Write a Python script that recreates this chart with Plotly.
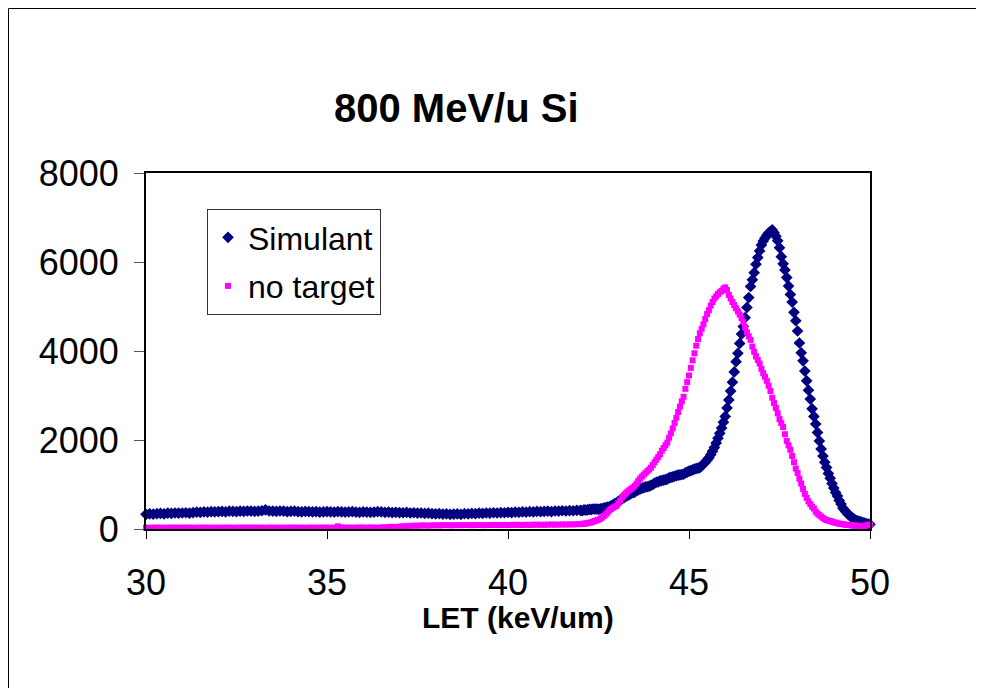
import numpy as np
import plotly.graph_objects as go

# ---- data ----
# low-LET region: 30.0 .. 41.9 step 0.1
flat_start, flat_step = 30.0, 0.1
simulant_flat = [
    330, 340, 335, 345, 350, 340, 355, 350, 360, 355,
    360, 365, 355, 370, 380, 375, 385, 380, 390, 385,
    390, 395, 385, 400, 395, 390, 400, 395, 405, 400,
    395, 400, 410, 430, 405, 400, 395, 405, 400, 390,
    395, 400, 390, 385, 395, 390, 385, 390, 380, 385,
    390, 385, 380, 390, 385, 380, 385, 390, 380, 375,
    385, 380, 375, 380, 390, 385, 375, 380, 370, 375,
    370, 365, 375, 360, 365, 355, 360, 350, 355, 345,
    340, 345, 335, 340, 330, 335, 340, 330, 345, 340,
    350, 345, 355, 350, 360, 355, 365, 360, 370, 365,
    375, 370, 380, 375, 385, 380, 390, 385, 395, 390,
    395, 400, 390, 405, 400, 410, 405, 415, 410, 420,
]
notarget_flat = [
    30, 28, 30, 32, 30, 28, 30, 32, 30, 30,
    30, 32, 30, 28, 30, 30, 32, 30, 28, 30,
    30, 30, 32, 30, 28, 30, 30, 32, 30, 30,
    32, 30, 30, 28, 30, 32, 30, 30, 28, 30,
    30, 32, 30, 30, 28, 30, 32, 30, 30, 32,
    30, 30, 32, 60, 35, 30, 32, 30, 30, 35,
    32, 30, 35, 32, 30, 35, 40, 45, 50, 45,
    55, 60, 65, 70, 75, 72, 78, 80, 75, 82,
    85, 80, 85, 88, 82, 85, 88, 85, 90, 88,
    85, 88, 90, 85, 88, 90, 92, 90, 88, 92,
    90, 92, 95, 92, 90, 95, 92, 95, 98, 95,
    95, 98, 100, 98, 100, 102, 100, 105, 102, 108,
]
# peak region: 42.00 .. 50.00 step 0.05
peak_start, peak_step = 42.0, 0.05
simulant_peak = [
    420, 410, 430, 425, 430, 440, 435, 450, 445, 450,
    440, 455, 460, 470, 480, 490, 500, 520, 545, 570,
    590, 620, 650, 680, 700, 730, 750, 770, 800, 815,
    830, 860, 880, 900, 920, 930, 945, 950, 965, 980,
    1000, 1030, 1050, 1060, 1080, 1090, 1100, 1110, 1120, 1150,
    1160, 1170, 1185, 1200, 1210, 1215, 1225, 1230, 1260, 1280,
    1300, 1310, 1330, 1345, 1360, 1370, 1380, 1420, 1460, 1500,
    1550, 1600, 1670, 1750, 1830, 1930, 2040, 2150, 2270, 2400,
    2530, 2720, 2900, 3100, 3300, 3530, 3760, 3950, 4170, 4380,
    4550, 4750, 4980, 5200, 5450, 5600, 5760, 5950, 6100, 6250,
    6380, 6470, 6540, 6600, 6650, 6690, 6720, 6660, 6580, 6480,
    6320, 6120, 5960, 5820, 5650, 5460, 5270, 5100, 4870, 4680,
    4450, 4180, 3960, 3780, 3550, 3330, 3120, 2920, 2700, 2530,
    2360, 2170, 1980, 1800, 1640, 1500, 1380, 1250, 1140, 1020,
    920, 820, 740, 640, 560, 470, 420, 370, 330, 290,
    260, 230, 200, 185, 170, 160, 145, 130, 120, 110,
    105,
]
notarget_peak = [
    110, 115, 120, 125, 130, 140, 150, 165, 180, 195,
    210, 230, 260, 295, 330, 370, 420, 450, 480, 500,
    520, 580, 640, 710, 760, 800, 840, 870, 900, 930,
    970, 1020, 1080, 1130, 1180, 1220, 1260, 1300, 1335, 1380,
    1440, 1500, 1560, 1620, 1680, 1760, 1820, 1880, 1940, 2050,
    2150, 2260, 2380, 2500, 2630, 2750, 2870, 2970, 3150, 3300,
    3450, 3620, 3790, 3950, 4120, 4270, 4400, 4500, 4600, 4720,
    4830, 4920, 5020, 5100, 5180, 5230, 5280, 5320, 5350, 5400,
    5430, 5370, 5260, 5180, 5100, 5030, 4960, 4890, 4820, 4740,
    4650, 4530, 4420, 4330, 4250, 4100, 3980, 3880, 3800, 3720,
    3600, 3500, 3420, 3330, 3220, 3100, 2950, 2830, 2720, 2600,
    2470, 2380, 2290, 2130, 1980, 1880, 1780, 1640, 1500, 1360,
    1260, 1130, 1020, 900, 790, 700, 620, 560, 500, 460,
    390, 345, 315, 280, 250, 220, 200, 190, 180, 165,
    150, 140, 130, 120, 115, 110, 100, 95, 90, 85,
    80, 78, 75, 72, 70, 68, 67, 70, 80, 90,
    100,
]
x_ticks = [30, 35, 40, 45, 50]
y_ticks = [0, 2000, 4000, 6000, 8000]
title_text = "800 MeV/u Si"
x_title = "LET (keV/um)"

x_flat = np.round(flat_start + flat_step * np.arange(len(simulant_flat)), 2)
x_peak = np.round(peak_start + peak_step * np.arange(len(simulant_peak)), 2)
x_all = np.concatenate([x_flat, x_peak])
sim_all = np.array(simulant_flat + simulant_peak)
nt_all = np.array(notarget_flat + notarget_peak)

FONT = "Liberation Sans, Arial, sans-serif"

fig = go.Figure()
fig.add_trace(go.Scatter(
    x=x_all, y=sim_all, mode="markers", name="Simulant",
    legendgroup="a",
    marker=dict(symbol="diamond", size=9, color="#000080", line=dict(width=0)),
    cliponaxis=False,
))
fig.add_trace(go.Scatter(
    x=x_all, y=nt_all, mode="markers", name="no target",
    legendgroup="b",
    marker=dict(symbol="square", size=6, color="#FF00FF", line=dict(width=0)),
    cliponaxis=False,
))

# the page places the figure 8 px from the window's top-left corner;
# keep the figure inside the window so no scrollbars appear
OFF = 8
W, H = 985 - 2 * OFF, 696 - 2 * OFF
L, R, T, B = 146 - OFF, 870 - OFF, 173 - OFF, 529 - OFF

def px(sx):
    return (sx - OFF - L) / (R - L)

def py(sy):
    return (B - (sy - OFF)) / (B - T)

fig.update_layout(
    width=W, height=H,
    margin=dict(l=L, r=W - R, t=T, b=H - B, pad=0),
    paper_bgcolor="white", plot_bgcolor="white",
    font=dict(family=FONT, color="black"),
    showlegend=True,
    legend=dict(
        x=px(207), y=py(209), xanchor="left", yanchor="top",
        bgcolor="white", bordercolor="#333333", borderwidth=1,
        font=dict(size=32, family=FONT, color="black"),
        tracegroupgap=4, itemsizing="trace",
    ),
    xaxis=dict(
        range=[30, 50], tickvals=x_ticks, ticktext=[str(v) for v in x_ticks],
        ticks="outside", ticklen=8, tickcolor="black", tickwidth=1,
        showline=True, linecolor="black", linewidth=2, mirror=True,
        showgrid=False, zeroline=False,
        tickfont=dict(size=36, family=FONT), ticklabelstandoff=13,
    ),
    yaxis=dict(
        range=[0, 8000], tickvals=y_ticks, ticktext=[str(v) for v in y_ticks],
        ticks="outside", ticklen=10, tickcolor="#555555", tickwidth=1,
        showline=True, linecolor="black", linewidth=2, mirror=True,
        showgrid=False, zeroline=False,
        tickfont=dict(size=36, family=FONT), ticklabelstandoff=8,
    ),
    annotations=[
        dict(text="<b>%s</b>" % title_text, xref="paper", yref="paper",
             x=px(456), y=py(108), xanchor="center", yanchor="middle",
             showarrow=False, font=dict(size=40, family=FONT)),
        dict(text="<b>%s</b>" % x_title, xref="paper", yref="paper",
             x=px(518), y=py(617), xanchor="center", yanchor="middle",
             showarrow=False, font=dict(size=30, family=FONT)),
    ],
    shapes=[
        dict(type="line", xref="paper", yref="paper",
             x0=px(8.5), y0=py(8.5), x1=px(976), y1=py(8.5),
             line=dict(color="black", width=1)),
        dict(type="line", xref="paper", yref="paper",
             x0=px(8.5), y0=py(8.5), x1=px(8.5), y1=py(688),
             line=dict(color="black", width=1)),
    ],
)

fig.write_html("out.html")
